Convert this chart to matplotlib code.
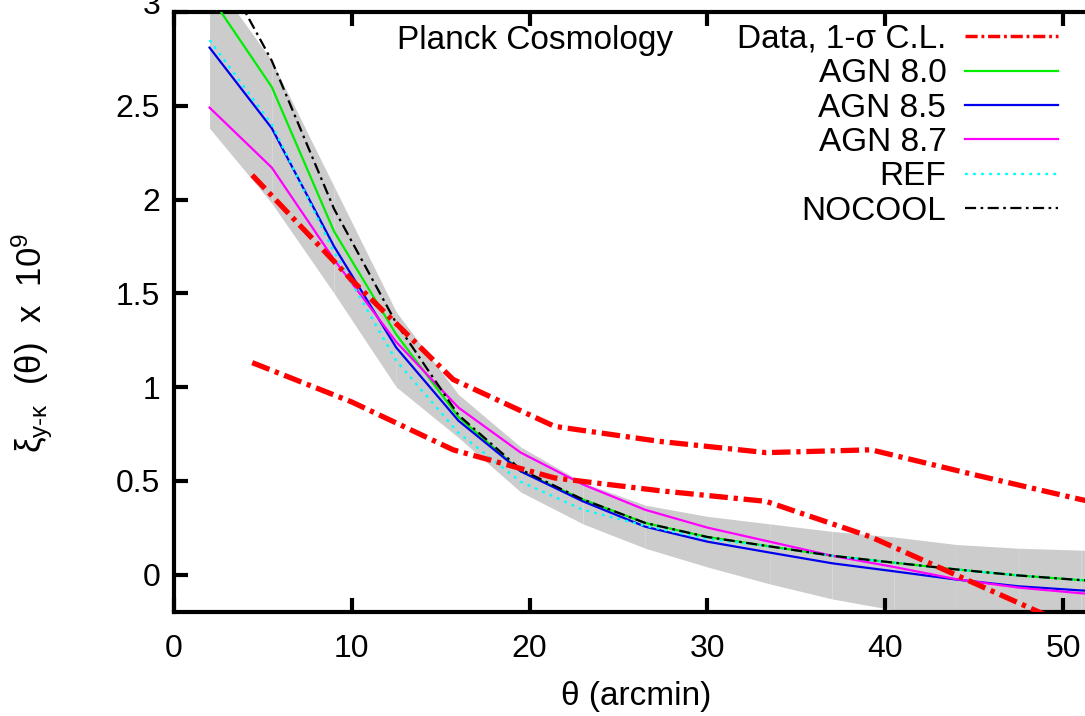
#!/usr/bin/env python
# -*- coding: utf-8 -*-
"""
tSZ - lensing cross-correlation: data vs. cosmo-OWLS models (Planck cosmology)
"""

import numpy as np
import matplotlib
matplotlib.use('Agg')
import matplotlib.pyplot as plt
from matplotlib.transforms import ScaledTranslation

# Model angular bins (arcmin)
theta_model = [2.0, 5.5, 9.0, 12.5, 16.0, 19.5, 23.0, 26.5, 30.0, 33.5,
               37.0, 40.5, 44.0, 47.5, 51.0, 54.5]

# Simulation predictions, xi x 1e9
agn80 = [3.09, 2.60, 1.83, 1.28, 0.84, 0.55, 0.40, 0.275, 0.20, 0.15,
         0.10, 0.063, 0.027, -0.005, -0.03, -0.05]
agn85 = [2.81, 2.38, 1.75, 1.21, 0.82, 0.55, 0.39, 0.255, 0.175, 0.117,
         0.06, 0.017, -0.027, -0.063, -0.085, -0.10]
agn87 = [2.49, 2.17, 1.68, 1.24, 0.89, 0.65, 0.48, 0.345, 0.25, 0.175,
         0.10, 0.04, -0.025, -0.07, -0.10, -0.12]
ref = [2.85, 2.40, 1.72, 1.14, 0.755, 0.495, 0.345, 0.26, 0.19, 0.15,
       0.10, 0.063, 0.027, -0.005, -0.03, -0.05]
nocool = [3.35, 2.74, 1.95, 1.34, 0.85, 0.56, 0.40, 0.275, 0.20, 0.15,
          0.10, 0.063, 0.027, -0.005, -0.03, -0.05]

# Model scatter band
band_lo = [2.38, 1.98, 1.50, 1.00, 0.73, 0.44, 0.27, 0.14, 0.04, -0.05,
           -0.13, -0.19, -0.25, -0.30, -0.35, -0.40]
band_hi = [3.20, 2.74, 2.07, 1.40, 0.96, 0.68, 0.49, 0.37, 0.31, 0.27,
           0.23, 0.20, 0.16, 0.14, 0.13, 0.12]

# Measured correlation, 1-sigma envelope
theta_data = [4.4, 10.0, 15.7, 21.4, 27.3, 33.3, 39.2, 45.1, 51.0, 56.9]
data_hi = [2.13, 1.57, 1.04, 0.79, 0.71, 0.65, 0.665, 0.53, 0.40, 0.28]
data_lo = [1.13, 0.92, 0.665, 0.515, 0.447, 0.39, 0.20, -0.05, -0.30, -0.55]

x_ticks = [0, 10, 20, 30, 40, 50]
y_ticks = [0, 0.5, 1, 1.5, 2, 2.5, 3]

FONT = 'Liberation Sans'
FS = 24
TICK_FS = 23


def make_plot(output_file):
    plt.rcParams['font.family'] = [FONT, 'DejaVu Sans']
    plt.rcParams['mathtext.fontset'] = 'custom'
    plt.rcParams['mathtext.rm'] = FONT
    plt.rcParams['mathtext.it'] = FONT
    plt.rcParams['mathtext.sf'] = FONT

    fig = plt.figure(figsize=(10.85, 7.16), dpi=100)
    ax = fig.add_axes([0.16037, 0.14525, 0.8604, 0.83799])

    # grey band, drawn piece by piece between the model bins
    for i in range(len(theta_model) - 1):
        ax.fill_between(theta_model[i:i + 2], band_lo[i:i + 2], band_hi[i:i + 2],
                        color='#cccccc', linewidth=0, zorder=1)

    ax.plot(theta_model, agn80, color='#00ee00', lw=1.6, label='AGN 8.0', zorder=3)
    ax.plot(theta_model, agn85, color='#0000ee', lw=1.6, label='AGN 8.5', zorder=4)
    ax.plot(theta_model, agn87, color='#ff00ff', lw=1.6, label='AGN 8.7', zorder=5)
    ax.plot(theta_model, ref, color='#00ffff', lw=1.7, linestyle=(0, (1.2, 2.2)),
            label='REF', zorder=6)
    ax.plot(theta_model, nocool, color='black', lw=1.6,
            linestyle=(0, (5, 2, 1.2, 2)), label='NOCOOL', zorder=7)

    red_style = dict(color='#ff0000', lw=3.8, linestyle=(0, (3.5, 1.1, 0.8, 1.1)),
                     zorder=8)
    ax.plot(theta_data, data_hi, label=u'Data, 1-\u03c3 C.L.', **red_style)
    ax.plot(theta_data, data_lo, **red_style)

    ax.set_xlim(0, 52.5)
    ax.set_ylim(-0.2, 3.0)
    ax.set_xticks(x_ticks)
    ax.set_yticks(y_ticks)
    ax.set_xticklabels([str(v) for v in x_ticks])
    ax.set_yticklabels(['%g' % v for v in y_ticks])
    ax.tick_params(direction='in', length=10, width=3, labelsize=TICK_FS,
                   top=True, right=True, pad=10)
    ax.tick_params(axis='x', pad=16)
    for sp in ax.spines.values():
        sp.set_linewidth(3)

    # top label sits a little higher, half off the page
    top_lab = ax.get_yticklabels()[-1]
    top_lab.set_transform(top_lab.get_transform() +
                          ScaledTranslation(0, 0.10, fig.dpi_scale_trans))

    fig.text(636 / 1085, 1 - 697 / 716, u'\u03b8 (arcmin)', ha='center',
             va='center', fontsize=FS)
    fig.text(32 / 1085, 1 - 343 / 716,
             u'$\\xi_{\\mathrm{y\u2010}\\kappa}$  (\u03b8)  x  10$^{9}$',
             rotation=90, ha='center', va='center', fontsize=25)
    fig.text(535 / 1085, 1 - 40 / 716, 'Planck Cosmology', ha='center',
             va='center', fontsize=FS)

    handles, labels = ax.get_legend_handles_labels()
    order = [5, 0, 1, 2, 3, 4]
    leg = ax.legend([handles[i] for i in order], [labels[i] for i in order],
                    loc='upper right', bbox_to_anchor=(1058 / 1085, 1 - 24 / 716),
                    bbox_transform=fig.transFigure, frameon=False,
                    markerfirst=False, fontsize=FS, handlelength=2.8,
                    handletextpad=0.55, labelspacing=0.1, borderpad=0,
                    borderaxespad=0)
    leg.get_lines()[0].set_linewidth(2.5)

    fig.savefig(output_file, dpi=100)
    print("Saved: %s" % output_file)


if __name__ == "__main__":
    make_plot('out.png')
